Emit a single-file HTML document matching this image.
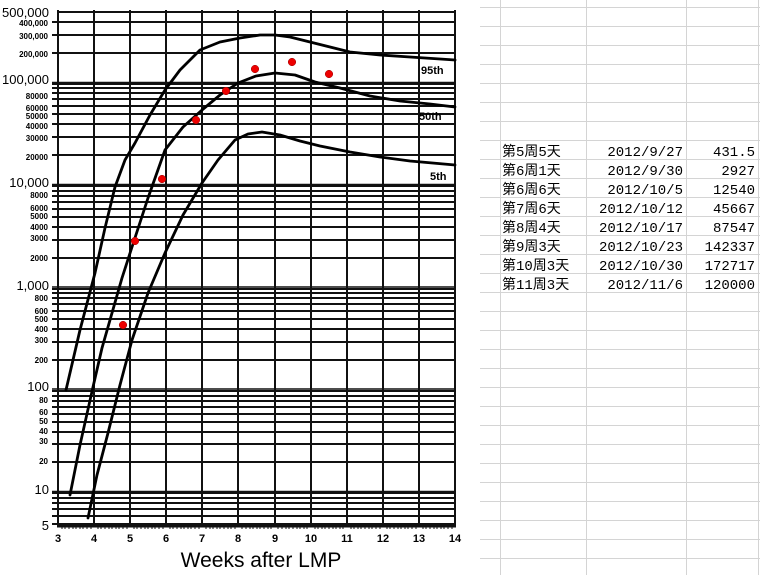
<!DOCTYPE html>
<html><head><meta charset="utf-8"><style>
body{margin:0;background:#fff;width:760px;height:575px;overflow:hidden}
svg{display:block}
.s{font:bold 8px "Liberation Sans",sans-serif;text-anchor:end}
.b{font:13px "Liberation Sans",sans-serif;text-anchor:end}
.x{font:bold 11px "Liberation Sans",sans-serif;text-anchor:middle}
.c{font:14px "Liberation Mono","Noto Sans CJK SC",monospace}
.r{font:14px "Liberation Mono","Noto Sans CJK SC",monospace;text-anchor:end}
</style></head><body>
<svg width="760" height="575" viewBox="0 0 760 575">
<g stroke="#d4d4d4" stroke-width="1">
<line x1="500.5" y1="0" x2="500.5" y2="575"/><line x1="586.5" y1="0" x2="586.5" y2="575"/>
<line x1="686.5" y1="0" x2="686.5" y2="575"/><line x1="758.5" y1="0" x2="758.5" y2="575"/>
<path d="M480 7.5H760M480 26.5H760M480 45.5H760M480 64.5H760M480 83.5H760M480 102.5H760M480 121.5H760M480 140.5H760M480 159.5H760M480 178.5H760M480 197.5H760M480 216.5H760M480 235.5H760M480 254.5H760M480 273.5H760M480 292.5H760M480 311.5H760M480 330.5H760M480 349.5H760M480 368.5H760M480 387.5H760M480 406.5H760M480 425.5H760M480 444.5H760M480 463.5H760M480 482.5H760M480 501.5H760M480 520.5H760M480 539.5H760M480 558.5H760"/>
</g>
<g>
<text class="c" x="502" y="156">第5周5天</text><text class="r" x="683" y="156">2012/9/27</text><text class="r" x="755" y="156">431.5</text>
<text class="c" x="502" y="175">第6周1天</text><text class="r" x="683" y="175">2012/9/30</text><text class="r" x="755" y="175">2927</text>
<text class="c" x="502" y="194">第6周6天</text><text class="r" x="683" y="194">2012/10/5</text><text class="r" x="755" y="194">12540</text>
<text class="c" x="502" y="213">第7周6天</text><text class="r" x="683" y="213">2012/10/12</text><text class="r" x="755" y="213">45667</text>
<text class="c" x="502" y="232">第8周4天</text><text class="r" x="683" y="232">2012/10/17</text><text class="r" x="755" y="232">87547</text>
<text class="c" x="502" y="251">第9周3天</text><text class="r" x="683" y="251">2012/10/23</text><text class="r" x="755" y="251">142337</text>
<text class="c" x="502" y="270">第10周3天</text><text class="r" x="683" y="270">2012/10/30</text><text class="r" x="755" y="270">172717</text>
<text class="c" x="502" y="289">第11周3天</text><text class="r" x="683" y="289">2012/11/6</text><text class="r" x="755" y="289">120000</text>
</g>
<rect x="0" y="0" width="470" height="575" fill="#fff"/>
<g stroke="#111" stroke-width="2">
<path d="M57 12H455M52 22H455M52 35H455M52 53H455M52 84H455M52 88H455M52 93H455M52 99H455M52 106H455M52 114H455M52 124H455M52 137H455M52 155H455M52 186H455M52 191H455M52 196H455M52 202H455M52 209H455M52 217H455M52 227H455M52 240H455M52 258H455M52 289H455M52 293H455M52 298H455M52 304H455M52 311H455M52 319H455M52 329H455M52 342H455M52 360H455M52 391H455M52 396H455M52 401H455M52 407H455M52 414H455M52 422H455M52 432H455M52 444H455M52 462H455M52 493H455M52 498H455M52 503H455M52 509H455M52 516H455M52 524H455"/>
<path d="M58 10V526M94 10V526M130 10V526M166 10V526M202 10V526M238 10V526M275 10V526M311 10V526M347 10V526M383 10V526M419 10V526M455 10V526" />
</g>
<g stroke="#111" stroke-width="1.5" fill="none">
<path d="M52 82.5H455M52 184.5H455M52 287H455M52 389H455M52 491.5H455"/>
</g>
<path d="M57 526H456" stroke="#111" stroke-width="3"/>
<path d="M62 526v3M65 526v3M69 526v3M73 526v3M76 526v3M80 526v3M83 526v3M87 526v3M91 526v3M98 526v3M101 526v3M105 526v3M109 526v3M112 526v3M116 526v3M119 526v3M123 526v3M127 526v3M134 526v3M137 526v3M141 526v3M145 526v3M148 526v3M152 526v3M155 526v3M159 526v3M163 526v3M170 526v3M173 526v3M177 526v3M181 526v3M184 526v3M188 526v3M191 526v3M195 526v3M199 526v3M206 526v3M210 526v3M213 526v3M217 526v3M220 526v3M224 526v3M228 526v3M231 526v3M235 526v3M242 526v3M246 526v3M250 526v3M253 526v3M257 526v3M260 526v3M264 526v3M268 526v3M271 526v3M278 526v3M282 526v3M286 526v3M289 526v3M293 526v3M297 526v3M300 526v3M304 526v3M307 526v3M315 526v3M318 526v3M322 526v3M325 526v3M329 526v3M333 526v3M336 526v3M340 526v3M343 526v3M351 526v3M354 526v3M358 526v3M361 526v3M365 526v3M369 526v3M372 526v3M376 526v3M380 526v3M387 526v3M390 526v3M394 526v3M398 526v3M401 526v3M405 526v3M408 526v3M412 526v3M416 526v3M423 526v3M426 526v3M430 526v3M434 526v3M437 526v3M441 526v3M444 526v3M448 526v3M452 526v3" stroke="#111" stroke-width="1"/>
<g fill="none" stroke="#000" stroke-width="2.8" stroke-linejoin="round" stroke-linecap="round">
<polyline points="66,390 80,330 95,273 105,228 115,187 125,160 135,143 150,115 165,90 180,70 200,50 220,42 240,38 260,35 275,35 290,37 310,42 330,47 350,52 380,55 410,57 455,60"/>
<polyline points="70,495 80,445 93,387 102,348 112,313 122,278 132,247 148,198 165,150 183,127 202,110 220,95 238,83 256,76 275,73 295,75 315,82 340,88 370,96 400,101 430,104 455,107"/>
<polyline points="88,518 97,475 108,433 120,385 132,340 148,293 165,253 183,215 202,183 218,160 235,140 248,134 262,132 280,135 300,141 320,146 350,152 380,157 410,161 455,165"/>
</g>
<g fill="#e00" stroke="#900" stroke-width="0.5">
<circle cx="123" cy="325" r="3.8"/><circle cx="135" cy="241" r="3.8"/><circle cx="162" cy="179" r="3.8"/>
<circle cx="196" cy="120" r="3.8"/><circle cx="226" cy="91" r="3.8"/><circle cx="255" cy="69" r="3.8"/>
<circle cx="292" cy="62" r="3.8"/><circle cx="329" cy="74" r="3.8"/>
</g>
<g font-family="Liberation Sans,sans-serif" font-weight="bold" font-size="11">
<text x="421" y="74">95th</text><text x="419" y="120">50th</text><text x="430" y="180">5th</text>
</g>
<g>
<text class="b" x="49" y="17">500,000</text>
<text class="s" x="48" y="26">400,000</text><text class="s" x="48" y="39">300,000</text><text class="s" x="48" y="57">200,000</text>
<text class="b" x="49" y="84">100,000</text>
<text class="s" x="48" y="99">80000</text><text class="s" x="48" y="111">60000</text><text class="s" x="48" y="119">50000</text><text class="s" x="48" y="129">40000</text><text class="s" x="48" y="141">30000</text><text class="s" x="48" y="160">20000</text>
<text class="b" x="49" y="187">10,000</text>
<text class="s" x="48" y="198">8000</text><text class="s" x="48" y="211">6000</text><text class="s" x="48" y="219">5000</text><text class="s" x="48" y="230">4000</text><text class="s" x="48" y="241">3000</text><text class="s" x="48" y="261">2000</text>
<text class="b" x="49" y="290">1,000</text>
<text class="s" x="48" y="301">800</text><text class="s" x="48" y="314">600</text><text class="s" x="48" y="322">500</text><text class="s" x="48" y="332">400</text><text class="s" x="48" y="343">300</text><text class="s" x="48" y="363">200</text>
<text class="b" x="49" y="391">100</text>
<text class="s" x="48" y="403">80</text><text class="s" x="48" y="415">60</text><text class="s" x="48" y="424">50</text><text class="s" x="48" y="434">40</text><text class="s" x="48" y="444">30</text><text class="s" x="48" y="464">20</text>
<text class="b" x="49" y="494">10</text>
<text class="b" x="49" y="530">5</text>
</g>
<g class="x">
<text x="58" y="542">3</text><text x="94" y="542">4</text><text x="130" y="542">5</text><text x="166" y="542">6</text><text x="202" y="542">7</text><text x="238" y="542">8</text><text x="275" y="542">9</text><text x="311" y="542">10</text><text x="347" y="542">11</text><text x="383" y="542">12</text><text x="419" y="542">13</text><text x="455" y="542">14</text>
</g>
<text x="261" y="567" font-family="Liberation Sans,sans-serif" font-size="21" text-anchor="middle">Weeks after LMP</text>
</svg>
</body></html>
